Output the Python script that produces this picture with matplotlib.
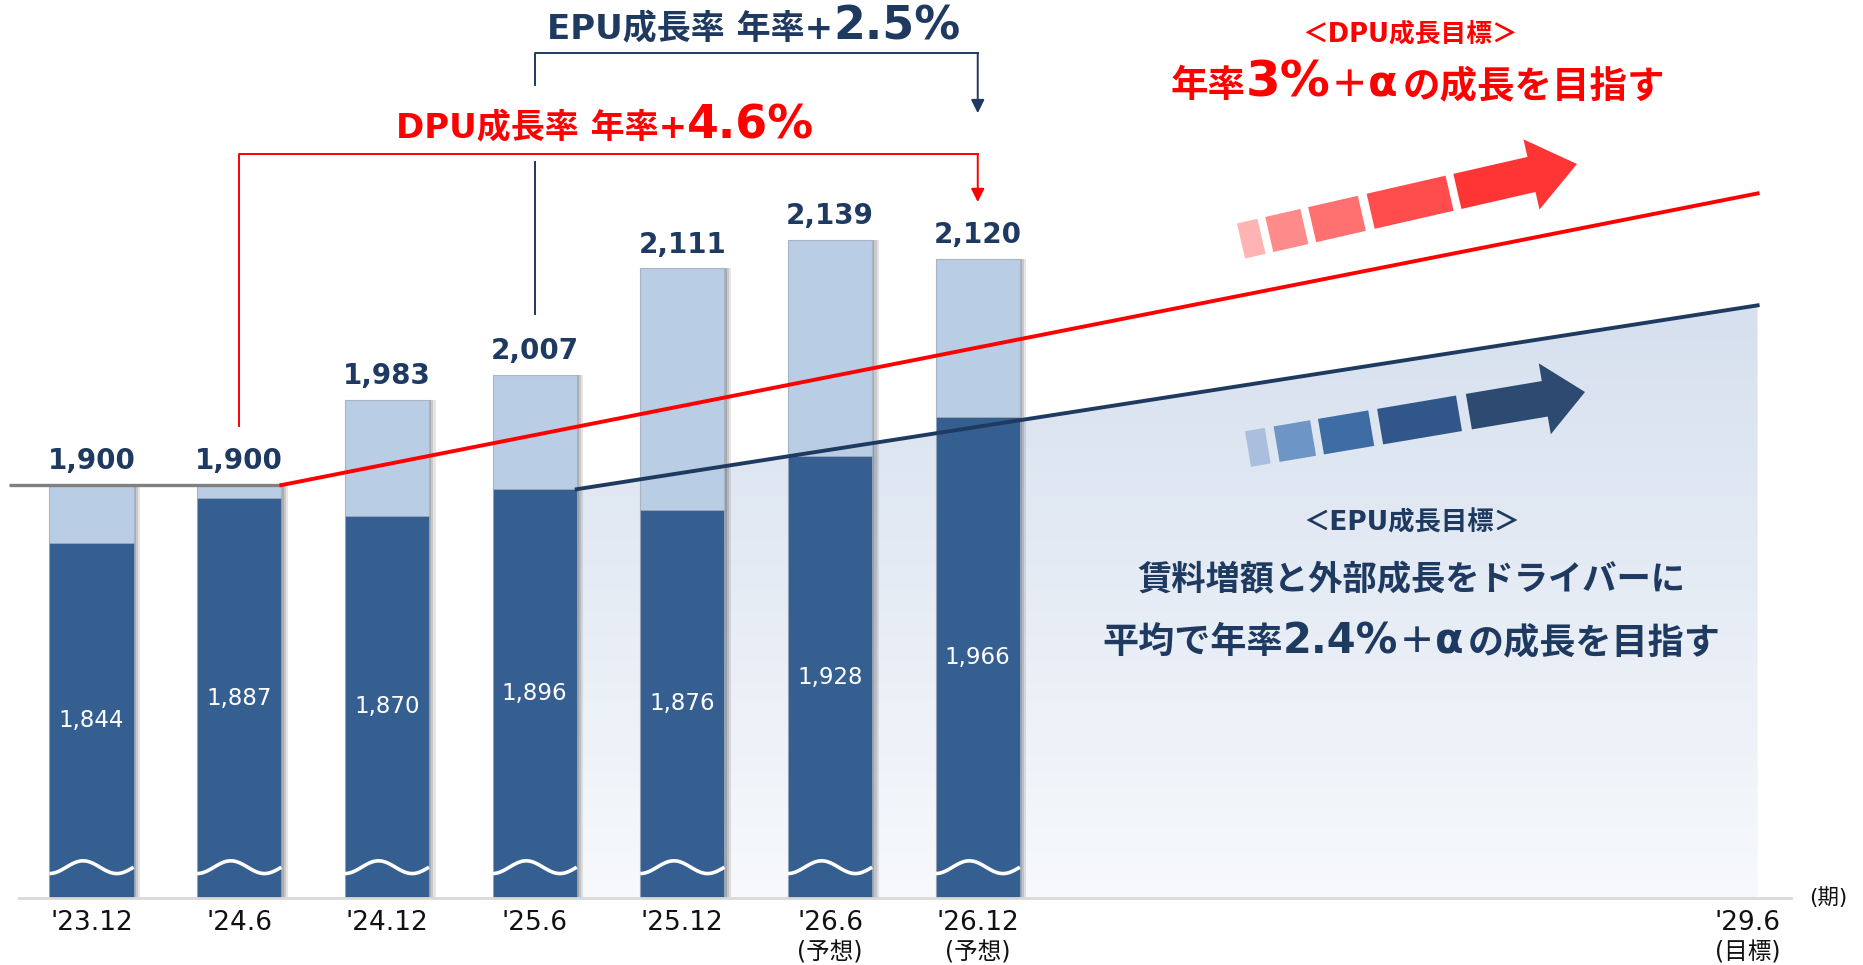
import numpy as np
import matplotlib
matplotlib.use("Agg")
import matplotlib.pyplot as plt
import matplotlib.transforms as mtransforms
from matplotlib.patches import Polygon
from matplotlib.colors import LinearSegmentedColormap
from matplotlib.offsetbox import TextArea, HPacker, AnnotationBbox

plt.rcParams['font.family'] = ['DejaVu Sans', 'Noto Sans CJK JP']

# ---------- data ----------
periods = ["'23.12", "'24.6", "'24.12", "'25.6", "'25.12", "'26.6", "'26.12"]
period_notes = ["", "", "", "", "", "(予想)", "(予想)"]
dpu = [1900, 1900, 1983, 2007, 2111, 2139, 2120]
epu = [1844, 1887, 1870, 1896, 1876, 1928, 1966]
goal_period = "'29.6"
goal_note = "(目標)"
goal_x = 11.21                      # '29.6 is drawn off-scale in the original
line_end_x = 11.28
dpu_goal_line = [1900, 2184]        # from '24.6 bar to '29.6
epu_goal_line = [1896, 2075]        # from '25.6 bar to '29.6
axis_floor = 1498                   # broken axis, bars start here

NAVY = '#1f3a60'
DARK = '#365f91'
LIGHT = '#b9cde4'
RED = '#ff0000'

fig = plt.figure(figsize=(18.63, 9.65), dpi=100)
ax = fig.add_axes([19 / 1863, 67 / 965, 1772 / 1863, 898 / 965])
ax.set_xlim(-0.491, 11.506)
ax.set_ylim(axis_floor, 2372.3)

x = np.arange(len(periods))
w = 0.57
dpu_a = np.array(dpu)
epu_a = np.array(epu)

# ---------- gradient area under EPU goal line ----------
x0 = 3 + w / 2
cmap = LinearSegmentedColormap.from_list('g', ['#f7f9fc', '#d6e0ee'])
grad = np.linspace(0, 1, 256).reshape(-1, 1)
im = ax.imshow(grad, extent=[x0, line_end_x, axis_floor, epu_goal_line[1]],
               origin='lower', aspect='auto', cmap=cmap, zorder=0.5)
clip = Polygon([(x0, axis_floor), (x0, epu_goal_line[0]),
                (line_end_x, epu_goal_line[1]), (line_end_x, axis_floor)],
               closed=True, facecolor='none', edgecolor='none', transform=ax.transData)
ax.add_patch(clip)
im.set_clip_path(clip)

# ---------- bars ----------
for off, a in [(0.045, 0.10), (0.03, 0.12), (0.015, 0.15)]:
    ax.bar(x + off, dpu_a - axis_floor, w, bottom=axis_floor, color='black',
           alpha=a, zorder=1.5, lw=0)
ax.bar(x, dpu_a - axis_floor, w, bottom=axis_floor, color=LIGHT,
       edgecolor='#a9b5c4', lw=0.8, zorder=2)
ax.bar(x, epu_a - axis_floor, w, bottom=axis_floor, color=DARK,
       edgecolor='#9aa9bb', lw=0.6, zorder=2.1)

# wavy break marks
t = np.linspace(0, 1, 80)
for i in x:
    ax.plot(i - w / 2 + t * w, 1528 + 6.2 * np.sin(2 * np.pi * 1.25 * t - np.pi / 2),
            color='white', lw=2.6, zorder=2.5, solid_capstyle='butt')

# labels
for i, (d, e) in enumerate(zip(dpu, epu)):
    ax.annotate(f'{d:,}', (i, d), xytext=(0, 7), textcoords='offset points',
                ha='center', va='bottom', fontsize=20, fontweight='bold',
                color=NAVY, zorder=5)
    ax.text(i, (axis_floor + e) / 2, f'{e:,}', ha='center', va='center',
            color='white', fontsize=16.5, zorder=5)

# ---------- lines ----------
ax.plot([-0.56, 1 + w / 2], [dpu[0], dpu[1]], color='#808080', lw=2.4,
        clip_on=False, zorder=3, solid_capstyle='butt')
ax.plot([1 + w / 2, line_end_x], dpu_goal_line, color=RED, lw=2.8, zorder=3)
ax.plot([3 + w / 2, line_end_x], epu_goal_line, color=NAVY, lw=2.8, zorder=3)

# ---------- axis ----------
for s in ['top', 'right', 'left']:
    ax.spines[s].set_visible(False)
ax.spines['bottom'].set_color('#d9d9d9')
ax.spines['bottom'].set_linewidth(2)
ax.set_xticks([])
ax.set_yticks([])
ax.patch.set_alpha(0)

tick_x = list(x) + [goal_x]
tick_lab = periods + [goal_period]
tick_note = period_notes + [goal_note]
for xi, lab, note in zip(tick_x, tick_lab, tick_note):
    ax.annotate(lab, (xi, 0), xycoords=('data', 'axes fraction'), xytext=(0, -18),
                textcoords='offset points', ha='center', va='center', fontsize=19,
                color='#111111', annotation_clip=False)
    if note:
        ax.annotate(note, (xi, 0), xycoords=('data', 'axes fraction'), xytext=(0, -39),
                    textcoords='offset points', ha='center', va='center', fontsize=17,
                    color='#111111', annotation_clip=False)
ax.annotate('(期)', (1, 0), xycoords='axes fraction', xytext=(27, 0),
            textcoords='offset points', ha='center', va='center', fontsize=15.5,
            color='#111111', annotation_clip=False)

# ---------- growth brackets ----------
trans = mtransforms.blended_transform_factory(ax.transData, ax.transAxes)
ax.plot([3, 3, 6], [0.905, 0.941, 0.941], color=NAVY, lw=1.4, transform=trans)
ax.plot([3, 3], [0.650, 0.820], color=NAVY, lw=1.4, transform=trans)
ax.annotate('', xy=(6, 0.874), xytext=(6, 0.941), xycoords=trans,
            arrowprops=dict(arrowstyle='-|>', color=NAVY, lw=1.4,
                            mutation_scale=20, shrinkA=0, shrinkB=0))
ax.plot([1, 1, 6], [0.5256, 0.8285, 0.8285], color=RED, lw=1.4, transform=trans)
ax.annotate('', xy=(6, 0.775), xytext=(6, 0.8285), xycoords=trans,
            arrowprops=dict(arrowstyle='-|>', color=RED, lw=1.4,
                            mutation_scale=20, shrinkA=0, shrinkB=0))


def mixed_text(parts, xy, color):
    boxes = [TextArea(s, textprops=dict(color=color, fontsize=fs, fontweight='bold'))
             for s, fs in parts]
    pack = HPacker(children=boxes, align='baseline', pad=0, sep=0)
    ab = AnnotationBbox(pack, xy, xycoords='axes fraction', frameon=False,
                        box_alignment=(0.5, 0.5), pad=0, zorder=6)
    ax.add_artist(ab)


mixed_text([('EPU成長率 年率+', 24.5), ('2.5%', 33)], (0.4148, 0.970), NAVY)
mixed_text([('DPU成長率 年率+', 24.5), ('4.6%', 33)], (0.3307, 0.860), RED)
mixed_text([('＜DPU成長目標＞', 18.5)], (0.785, 0.962), RED)
mixed_text([('年率', 27), ('3%', 36), ('＋', 27), ('α', 31), (' ', 10),
            ('の成長を目指す', 27)], (0.7895, 0.9076), RED)
mixed_text([('＜EPU成長目標＞', 19)], (0.786, 0.4176), NAVY)
mixed_text([('賃料増額と外部成長をドライバーに', 24.7)], (0.786, 0.353), NAVY)
mixed_text([('平均で年率', 26), ('2.4%', 30), ('＋', 26), ('α', 30), (' ', 10),
            ('の成長を目指す', 26)], (0.786, 0.286), NAVY)

# ---------- decorative dashed arrows (pixel overlay) ----------
ov = fig.add_axes([0, 0, 1, 1])
ov.set_xlim(0, 1863)
ov.set_ylim(965, 0)
ov.axis('off')
ov.patch.set_alpha(0)


def dashed_arrow(p0, tip, pieces, colors, thick, head_w):
    p0 = np.array(p0, float)
    tip = np.array(tip, float)
    L = np.linalg.norm(tip - p0)
    u = (tip - p0) / L
    n = np.array([-u[1], u[0]])
    for k, ((a, b), c) in enumerate(zip(pieces, colors)):
        A, B = p0 + u * a, p0 + u * b
        if k < len(pieces) - 1:
            pts = [A + n * thick / 2, B + n * thick / 2, B - n * thick / 2, A - n * thick / 2]
        else:
            pts = [A + n * thick / 2, B + n * thick / 2, B + n * head_w / 2, tip,
                   B - n * head_w / 2, B - n * thick / 2, A - n * thick / 2]
        ov.add_patch(Polygon(pts, closed=True, facecolor=c, edgecolor='none'))


dashed_arrow((1241, 241), (1577, 164),
             [(0, 21), (29, 65), (73, 124), (133, 214), (222, 298)],
             ['#ffb4b4', '#ff8a8a', '#ff7070', '#ff4d4d', '#ff3434'], 36, 72)
dashed_arrow((1248, 449), (1585, 392),
             [(0, 20), (29, 66), (74, 125), (134, 214), (224, 301)],
             ['#a9bfdd', '#6d95c6', '#3e6ca5', '#31568a', '#2d4b71'], 36, 72)

fig.savefig('out.png', dpi=100)
